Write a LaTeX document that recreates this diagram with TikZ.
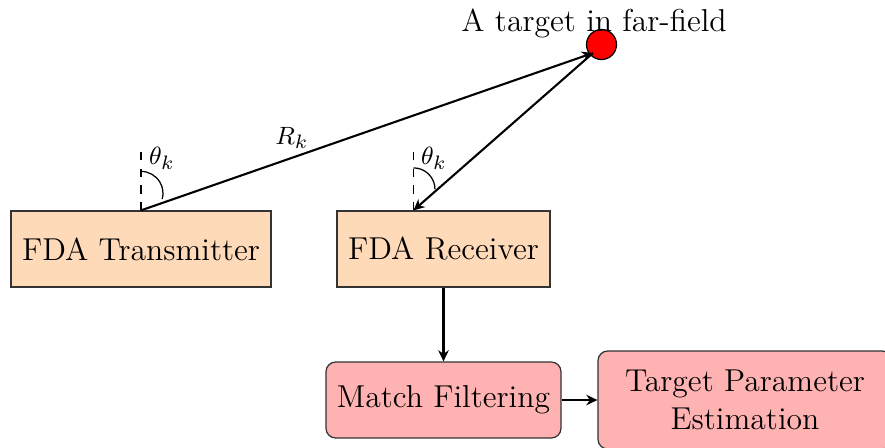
\documentclass[tikz,border=0pt]{standalone}
\usetikzlibrary{arrows.meta}
\definecolor{boxpeach}{RGB}{255,218,185}
\definecolor{boxpink}{RGB}{255,178,178}
\newcommand\pxu{0.36pt}
\begin{document}
\begin{tikzpicture}[x=\pxu,y=-\pxu,
  every node/.style={font=\fontsize{11.4}{13.6}\selectfont},
  block/.style={draw=black!80, line width=0.45pt, inner sep=0pt, align=center},
  hw/.style={block, fill=boxpeach, minimum height=76*\pxu},
  proc/.style={block, fill=boxpink, rounded corners=3.5pt},
  conn/.style={line width=0.75pt, -{Stealth[length=4pt,width=3.8pt,inset=1.3pt]}},
  anglabel/.style={font=\fontsize{9.3}{11}\selectfont, inner sep=0pt},
  guide/.style={line width=0.4pt, dash pattern=on 3pt off 3pt},
  anglearc/.style={line width=0.45pt}]
\useasboundingbox (0,0) rectangle (885,447);

% hardware blocks
\node[hw, minimum width=260*\pxu] (tx) at (141,249) {FDA Transmitter};
\node[hw, minimum width=213*\pxu] (rx) at (443.5,249) {FDA Receiver};

% processing blocks
\node[proc, minimum width=235*\pxu, minimum height=76*\pxu] (mf) at (443.5,400) {Match Filtering};
\node[proc, minimum width=294*\pxu, minimum height=98*\pxu] (tp) at (745,400) {Target Parameter\\Estimation};

% target
\node[circle, draw, fill=red, line width=0.45pt, minimum size=30*\pxu, inner sep=0pt] (tgt) at (601.5,44.5) {};
\node[anchor=base, inner sep=0pt] (tgtlabel) at (594,31) {A target in far-field};
\coordinate (hit) at (593,53);

% array reference points
\coordinate (txport) at (tx.north);
\coordinate (rxport) at ([xshift=-30*\pxu]rx.north);

% propagation paths
\draw[conn] (txport) -- (hit);
\draw[conn] (hit) -- (rxport);

% broadside references and angles
\draw[guide] (txport) -- ++(0,-66);
\draw[guide] (rxport) -- ++(0,-66);
\draw[anglearc] (txport) ++(0,-39) arc[start angle=-90, end angle=15, radius=22];
\draw[anglearc] (rxport) ++(0,-42.5) arc[start angle=-90, end angle=0, radius=21.5];

\node[anglabel] (th1) at (162,158) {$\theta_k$};
\node[anglabel] (th2) at (434,158) {$\theta_k$};
\node[anglabel] (rk) at (292,138) {$R_k$};

% processing chain
\draw[conn] (rx.south) -- (mf.north);
\draw[conn] (mf.east) -- (tp.west);
\end{tikzpicture}
\end{document}
